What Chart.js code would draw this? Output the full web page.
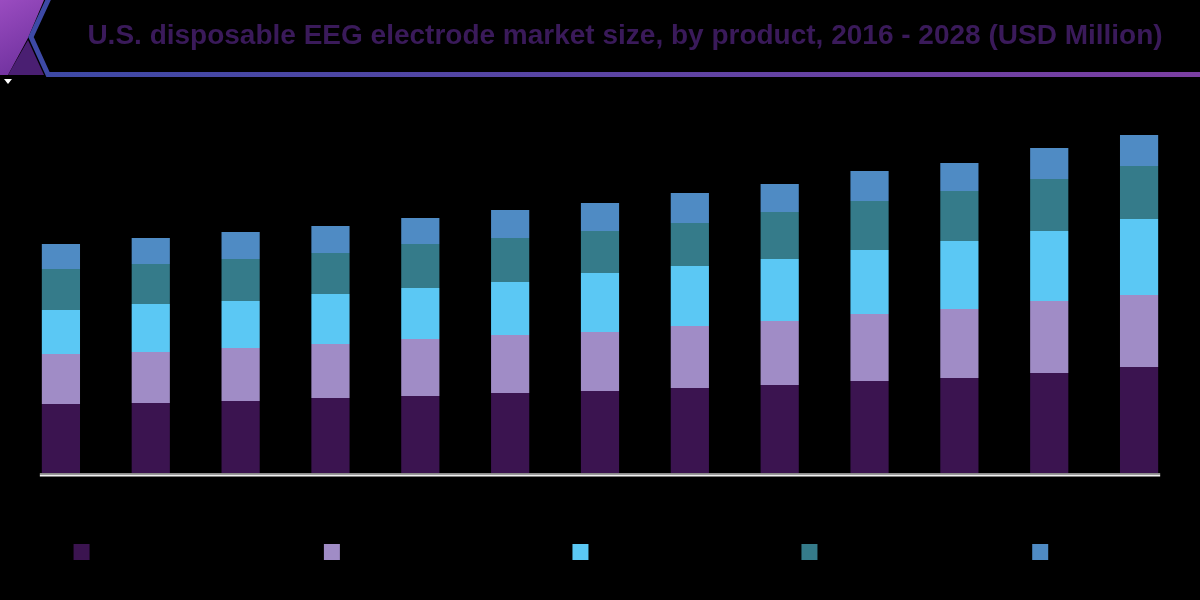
<!DOCTYPE html>
<html>
<head>
<meta charset="utf-8">
<script src="https://cdn.jsdelivr.net/npm/chart.js@4.4.1/dist/chart.umd.min.js"></script>
<style>
  html, body { margin: 0; padding: 0; background: #000; }
  #wrap { width: 1200px; height: 600px; }
</style>
</head>
<body>
<div id="wrap"><canvas id="chart" width="1200" height="600"></canvas></div>
<script>
const titleText = "U.S. disposable EEG electrode market size, by product, 2016 - 2028 (USD Million)";
const years = ["2016", "2017", "2018", "2019", "2020", "2021", "2022", "2023", "2024", "2025", "2026", "2027", "2028"];
const seriesNames = ["Disposable Needle Electrodes", "Subdermal Needle Electrodes", "Disposable Cup Electrodes", "Disposable Disc Electrodes", "All Others"];
const needle = [6.9, 7.0, 7.2, 7.5, 7.7, 8.0, 8.2, 8.5, 8.8, 9.2, 9.5, 10.0, 10.6];
const subdermal = [5.0, 5.1, 5.3, 5.4, 5.7, 5.8, 5.9, 6.2, 6.4, 6.7, 6.9, 7.2, 7.2];
const cup = [4.4, 4.8, 4.7, 5.0, 5.1, 5.3, 5.9, 6.0, 6.2, 6.4, 6.8, 7.0, 7.6];
const disc = [4.1, 4.0, 4.2, 4.1, 4.4, 4.4, 4.2, 4.3, 4.7, 4.9, 5.0, 5.2, 5.3];
const others = [2.5, 2.6, 2.7, 2.7, 2.6, 2.8, 2.8, 3.0, 2.8, 3.0, 2.8, 3.1, 3.1];
const colors = ["#3b1450", "#a08cc6", "#5bc8f4", "#357b8a", "#4f8bc4"];

// header strip, title and the white baseline under the bars
const decor = {
  id: "decor",
  beforeDraw(chart) {
    const ctx = chart.ctx;
    ctx.save();
    ctx.fillStyle = "#000";
    ctx.fillRect(0, 0, chart.width, chart.height);
    let g = ctx.createLinearGradient(0, 0, 40, 75);
    g.addColorStop(0, "#9a4cc0");
    g.addColorStop(1, "#6a2e9a");
    ctx.fillStyle = g;
    ctx.beginPath();
    ctx.moveTo(0, 0); ctx.lineTo(44, 0); ctx.lineTo(28, 38); ctx.lineTo(8, 75); ctx.lineTo(0, 75);
    ctx.closePath(); ctx.fill();
    ctx.fillStyle = "#4a1f72";
    ctx.beginPath();
    ctx.moveTo(8, 75); ctx.lineTo(28, 40); ctx.lineTo(44, 75);
    ctx.closePath(); ctx.fill();
    g = ctx.createLinearGradient(0, 0, chart.width, 0);
    g.addColorStop(0, "#3b4aa6");
    g.addColorStop(1, "#7b3fa2");
    ctx.strokeStyle = g;
    ctx.lineWidth = 5;
    ctx.beginPath();
    ctx.moveTo(49, -2); ctx.lineTo(31, 37); ctx.lineTo(48, 74.5); ctx.lineTo(chart.width, 74.5);
    ctx.stroke();
    ctx.fillStyle = "#fff";
    ctx.beginPath();
    ctx.moveTo(4, 79); ctx.lineTo(12, 79); ctx.lineTo(8, 84);
    ctx.closePath(); ctx.fill();
    ctx.fillStyle = "#3a1a5a";
    ctx.font = "bold 28px 'Liberation Sans', Arial, sans-serif";
    ctx.textAlign = "center";
    ctx.textBaseline = "middle";
    ctx.fillText(titleText, 625, 36);
    ctx.restore();
  },
  afterDatasetsDraw(chart) {
    const meta = chart.getDatasetMeta(0);
    const first = meta.data[0], last = meta.data[meta.data.length - 1];
    const y = chart.scales.y.getPixelForValue(0);
    const x0 = first.x - first.width / 2 - 2;
    const w = last.x + last.width / 2 + 2 - x0;
    const ctx = chart.ctx;
    ctx.save();
    ctx.fillStyle = "#8a8a8a";
    ctx.fillRect(x0, y, w, 1.5);
    ctx.fillStyle = "#f2f2f2";
    ctx.fillRect(x0, y + 1.5, w, 2);
    ctx.restore();
  }
};

const values = [needle, subdermal, cup, disc, others];
const datasets = seriesNames.map((name, i) => ({
  label: name,
  data: values[i],
  backgroundColor: colors[i],
  borderWidth: 0,
  barPercentage: 0.425,
  categoryPercentage: 1
}));

new Chart(document.getElementById("chart").getContext("2d"), {
  type: "bar",
  data: { labels: years, datasets: datasets },
  plugins: [decor],
  options: {
    responsive: false,
    animation: false,
    layout: { padding: { top: 73, left: 16, right: 16, bottom: 30 } },
    plugins: {
      title: { display: false },
      tooltip: { enabled: false },
      legend: {
        position: "bottom",
        labels: {
          boxWidth: 16,
          boxHeight: 16,
          padding: 12,
          color: "#000",
          font: { family: "'Liberation Sans', Arial, sans-serif", size: 16 }
        }
      }
    },
    scales: {
      x: {
        stacked: true,
        grid: { display: false, drawTicks: false },
        border: { display: false },
        ticks: { color: "#000", font: { size: 14 } },
        afterFit: (s) => { s.height = 59; }
      },
      y: {
        stacked: true,
        display: false,
        min: 0,
        max: 40
      }
    }
  }
});
</script>
</body>
</html>
